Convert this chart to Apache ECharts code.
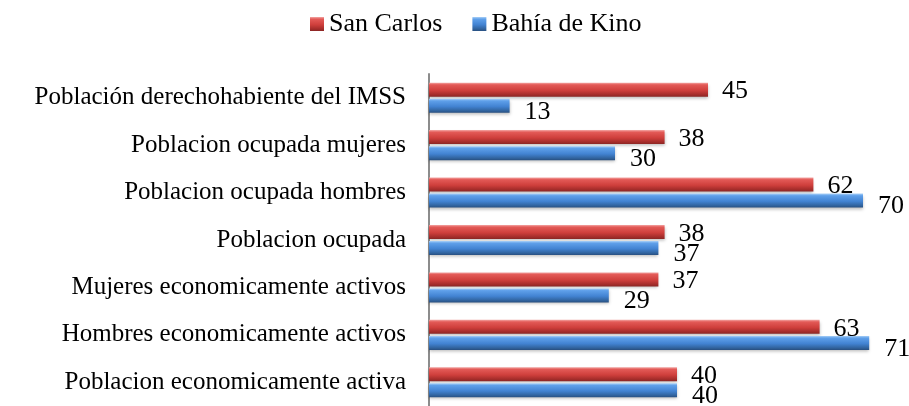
<!DOCTYPE html>
<html>
<head>
<meta charset="utf-8">
<script src="https://cdn.jsdelivr.net/npm/echarts@6/dist/echarts.min.js"></script>
<style>
  html, body { margin: 0; padding: 0; background: #fff; }
  #chart { width: 909px; height: 406px; }
</style>
</head>
<body>
<div id="chart"></div>
<script>
// categories listed bottom -> top (category axis starts at the bottom)
const categories = [
  "Poblacion economicamente activa",
  "Hombres economicamente activos",
  "Mujeres economicamente activos",
  "Poblacion ocupada",
  "Poblacion ocupada hombres",
  "Poblacion ocupada mujeres",
  "Población derechohabiente del IMSS"
];
const sanCarlos = [40, 63, 37, 38, 62, 38, 45];
const bahiaKino = [40, 71, 29, 37, 70, 30, 13];

const FONT = "'Liberation Serif', 'Times New Roman', serif";

const redFill = new echarts.graphic.LinearGradient(0, 0, 0, 1, [
  { offset: 0, color: "#f3a6a4" },
  { offset: 0.15, color: "#e35a57" },
  { offset: 0.55, color: "#cf3f3c" },
  { offset: 0.85, color: "#a52d2b" },
  { offset: 1, color: "#8a2624" }
]);
const blueFill = new echarts.graphic.LinearGradient(0, 0, 0, 1, [
  { offset: 0, color: "#a9d0f7" },
  { offset: 0.15, color: "#5fa0ea" },
  { offset: 0.55, color: "#4283d2" },
  { offset: 0.85, color: "#31649f" },
  { offset: 1, color: "#284f80" }
]);

const chart = echarts.init(document.getElementById("chart"));
chart.setOption({
  animation: false,
  legend: {
    top: 6,
    left: 305,
    itemWidth: 14,
    itemHeight: 14,
    itemGap: 30,
    icon: "rect",
    data: ["San Carlos", "Bahía de Kino"],
    textStyle: { fontFamily: FONT, fontSize: 26, color: "#000" }
  },
  grid: { left: 429, right: 15, top: 74, bottom: -4 },
  xAxis: {
    type: "value",
    min: 0,
    max: 75,
    show: false
  },
  yAxis: {
    type: "category",
    data: categories,
    axisLine: { lineStyle: { color: "#8c8c8c", width: 2 } },
    axisTick: { show: false },
    axisLabel: {
      fontFamily: FONT,
      fontSize: 25,
      color: "#000",
      margin: 23
    }
  },
  series: [
    {
      name: "San Carlos",
      type: "bar",
      data: sanCarlos,
      barWidth: 14,
      barGap: "15%",
      itemStyle: {
        color: redFill,
        shadowColor: "rgba(0,0,0,0.25)",
        shadowBlur: 3,
        shadowOffsetY: 2
      },
      label: {
        show: true,
        position: "right",
        distance: 14,
        offset: [0, 2],
        fontFamily: FONT,
        fontSize: 26,
        color: "#000"
      }
    },
    {
      name: "Bahía de Kino",
      type: "bar",
      data: bahiaKino,
      barWidth: 14,
      itemStyle: {
        color: blueFill,
        shadowColor: "rgba(0,0,0,0.25)",
        shadowBlur: 3,
        shadowOffsetY: 2
      },
      label: {
        show: true,
        position: "right",
        distance: 15,
        offset: [0, 6],
        fontFamily: FONT,
        fontSize: 26,
        color: "#000"
      }
    }
  ]
});
</script>
</body>
</html>
